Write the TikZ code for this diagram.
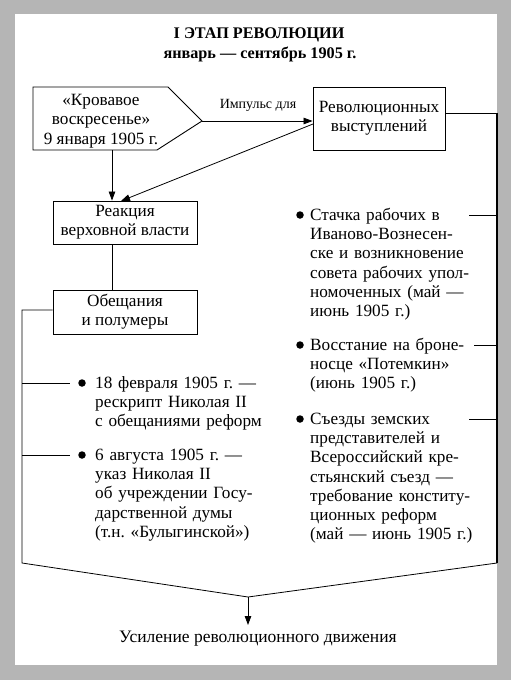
\documentclass[tikz,border=0pt]{standalone}
\usepackage{fontspec}
\setmainfont{Liberation Serif}
\usetikzlibrary{arrows.meta}
\definecolor{bggray}{HTML}{B5B5B5}
\tikzset{
  txt/.style={font=\fontsize{17.2}{19.2}\selectfont\frenchspacing, inner sep=0pt},
  box/.style={txt, draw, line width=0.9pt, align=center, inner sep=0pt},
  btext/.style={txt, anchor=base west, align=left, text width=#1},
  conn/.style={line width=0.8pt},
  arr/.style={conn, -{Triangle[length=9pt,width=6.5pt]}},
  dot/.style={circle, fill, inner sep=0pt, minimum size=7.5pt}
}
\begin{document}
\begin{tikzpicture}[x=1pt,y=-1pt]
\useasboundingbox (0,0) rectangle (511,680);
\fill[bggray] (0,0) rectangle (511,680);
\fill[white] (15,14) rectangle (497,665);
% title
\node[font=\fontsize{16.2}{19}\selectfont\bfseries, inner sep=0pt, anchor=base] (t1) at (259,38) {I ЭТАП РЕВОЛЮЦИИ};
\node[font=\fontsize{16.2}{19}\selectfont\bfseries, inner sep=0pt, anchor=base] (t2) at (260,58) {январь — сентябрь 1905 г.};
% pentagon box
\coordinate (k1) at (33,87);
\coordinate (k2) at (168,87);
\coordinate (ktip) at (202,121);
\coordinate (k4) at (157,150);
\coordinate (k5) at (33,150);
\draw[line width=0.9pt] (k1) -- (k2) -- (ktip) -- (k4) -- (k5) -- cycle;
\node[txt, align=center] (kv) at (101,121) {«Кровавое\\воскресенье»\\9 января 1905 г.};
\coordinate (kbot) at (112,150);
% boxes
\node[box, minimum width=132pt, minimum height=63pt] (rev) at (379,118.5) {Революционных\\выступлений};
\node[box, minimum width=144pt, minimum height=43pt] (reak) at (125,222.5) {Реакция\\верховной власти};
\node[box, minimum width=144pt, minimum height=44pt] (obe) at (125,312) {Обещания\\и полумеры};
% connectors top
\draw[arr] (ktip) -- (rev.west |- ktip);
\node[font=\fontsize{14}{16}\selectfont, inner sep=0pt, anchor=base] (imp) at (258,108) {Импульс для};
\draw[arr] (kbot) -- (kbot |- reak.north);
\coordinate (revl) at (313,124);
\coordinate (reakt) at (121,201);
\draw[arr] (revl) -- (reakt);
\draw[conn] (reak.south -| kbot) -- (obe.north -| kbot);
% left branch
\coordinate (lx) at (22,310);
\coordinate (lbot) at (22,563);
\coordinate (rbot) at (497,563);
\coordinate (apex) at (248,597);
\draw[conn] (obe.west |- lx) -- (lx) -- (lbot) -- (apex) -- (rbot);
% left bullets
\node[dot] (ld1) at (82,383) {};
\node[btext=200pt] (lt1) at (95,388.5) {18 февраля 1905 г. —\\рескрипт Николая II\\с обещаниями реформ};
\node[dot] (ld2) at (82,455) {};
\node[btext=200pt] (lt2) at (95,460.5) {6 августа 1905 г. —\\указ Николая II\\об учреждении Госу-\\дарственной думы\\(т.н. «Булыгинской»)};
\coordinate (l1a) at (22,383);
\coordinate (l1b) at (70,383);
\coordinate (l2a) at (22,455);
\coordinate (l2b) at (70,455);
\draw[conn] (l1a) -- (l1b);
\draw[conn] (l2a) -- (l2b);
% right side
\coordinate (rtop) at (497,113);
\draw[conn] (rev.east |- rtop) -- (rtop);
\draw[line width=1.8pt] (rtop) -- (rbot);
\node[dot] (rd1) at (300,215) {};
\node[btext=180pt] (rt1) at (310,220.5) {Стачка рабочих в\\Иваново-Вознесен-\\ске и возникновение\\совета рабочих упол-\\номоченных (май —\\июнь 1905 г.)};
\node[dot] (rd2) at (300,345) {};
\node[btext=180pt] (rt2) at (310,350.5) {Восстание на броне-\\носце «Потемкин»\\(июнь 1905 г.)};
\node[dot] (rd3) at (300,419) {};
\node[btext=180pt] (rt3) at (310,424.5) {Съезды земских\\представителей и\\Всероссийский кре-\\стьянский съезд —\\требование конститу-\\ционных реформ\\(май — июнь 1905 г.)};
\coordinate (r1a) at (469,215);
\coordinate (r2a) at (474,345);
\coordinate (r3a) at (469,419);
\draw[conn] (r1a) -- (r1a -| rtop);
\draw[conn] (r2a) -- (r2a -| rtop);
\draw[conn] (r3a) -- (r3a -| rtop);
% bottom
\node[txt, font=\fontsize{17.5}{20}\selectfont, anchor=base] (fin) at (258,642) {Усиление революционного движения};
\draw[arr] (apex) -- (apex |- 625,625);
\end{tikzpicture}
\end{document}
